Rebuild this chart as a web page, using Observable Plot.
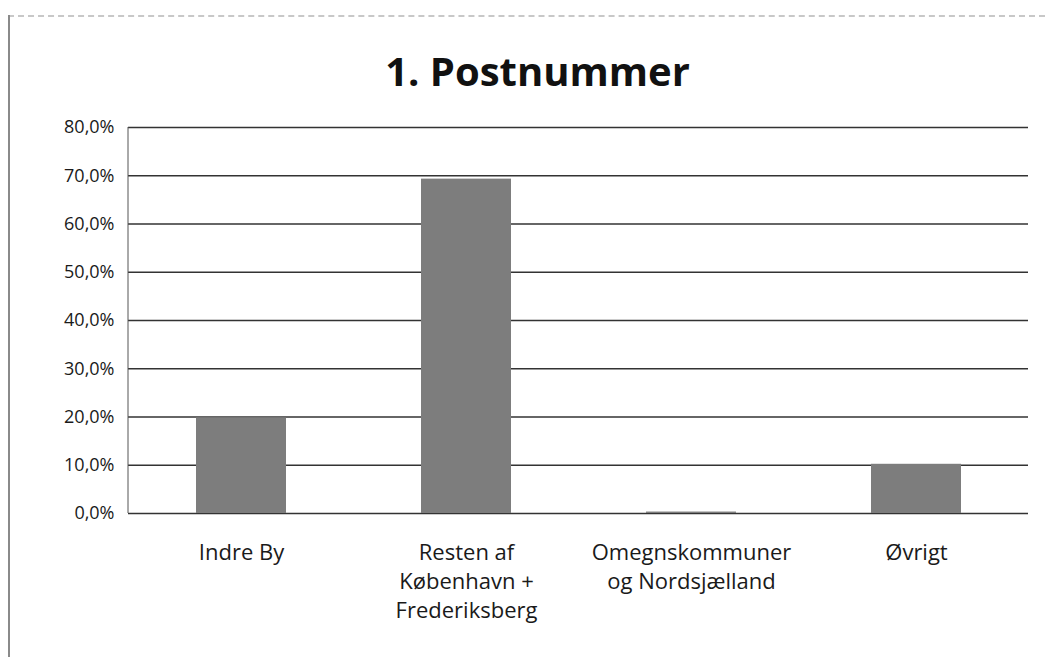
<!DOCTYPE html>
<html>
<head>
<meta charset="utf-8">
<script src="https://cdn.jsdelivr.net/npm/d3@7"></script>
<script src="https://cdn.jsdelivr.net/npm/@observablehq/plot@0.6"></script>
<style>
  body { margin: 0; background: #fff; }
  #wrap { position: relative; width: 1045px; height: 657px; overflow: hidden; background: #fff; }
  #frameTop { position: absolute; left: 8px; top: 15px; width: 1037px; height: 0; border-top: 2px dashed #c8c8c8; z-index: 2; }
  #frameLeft { position: absolute; left: 8px; top: 15px; width: 0; height: 642px; border-left: 2px solid #8a8a8a; z-index: 2; }
  #title { position: absolute; left: 0; top: 0; width: 1075px; height: 110px; line-height: 142px; text-align: center;
           font-family: "Open Sans", sans-serif; font-weight: 700; font-size: 40px; color: #111; }
  #chart { position: absolute; left: 0; top: 110px; }
</style>
</head>
<body>
<div id="wrap">
  <div id="title">1. Postnummer</div>
  <div id="chart"></div>
  <div id="frameTop"></div>
  <div id="frameLeft"></div>
</div>
<script>
const categories = ["Indre By", "Resten af\nKøbenhavn +\nFrederiksberg", "Omegnskommuner\nog Nordsjælland", "Øvrigt"];
const values = [19.8, 69.3, 0.3, 10.2];
const yTicks = [0, 10, 20, 30, 40, 50, 60, 70, 80];

const data = categories.map((c, i) => ({category: c, value: values[i]}));
const fmt = d => d.toFixed(1).replace(".", ",") + "%";

const leftAxisLine = (index, scales, values, dims) => {
  const line = d3.create("svg:line")
    .attr("x1", dims.marginLeft).attr("x2", dims.marginLeft)
    .attr("y1", scales.y(0)).attr("y2", scales.y(80))
    .attr("stroke", "#555").attr("stroke-width", 1);
  return line.node();
};

const plot = Plot.plot({
  width: 1045,
  height: 547,
  marginTop: 17,
  marginBottom: 144,
  marginLeft: 128,
  marginRight: 17,
  style: {fontFamily: "Open Sans, sans-serif", fontSize: "18px", color: "#1a1a1a", background: "#fff"},
  x: {domain: categories, paddingInner: 0.6, paddingOuter: 0.3, label: null},
  y: {domain: [0, 80], label: null},
  marks: [
    Plot.gridY(yTicks, {stroke: "#333", strokeOpacity: 1, strokeWidth: 1.6}),
    Plot.barY(data, {x: "category", y: "value", fill: "#7d7d7d"}),
    leftAxisLine,
    Plot.axisY(yTicks, {tickFormat: fmt, tickSize: 0, tickPadding: 14, fontSize: 18, fill: "#1a1a1a"}),
    Plot.axisX({tickSize: 0, tickPadding: 26, fontSize: 22, lineHeight: 1.32, fill: "#1a1a1a"})
  ]
});
document.getElementById("chart").appendChild(plot);
</script>
</body>
</html>
